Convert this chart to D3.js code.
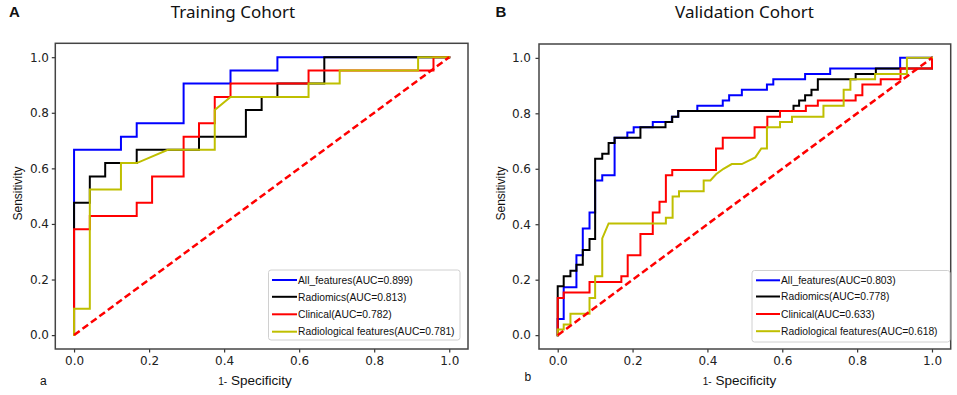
<!DOCTYPE html>
<html>
<head>
<meta charset="utf-8">
<script src="https://cdn.jsdelivr.net/npm/d3@7/dist/d3.min.js"></script>
<style>
  html, body { margin: 0; padding: 0; background: #fff; }
  svg { display: block; }
</style>
</head>
<body>
<svg id="chart" width="957" height="395"></svg>
<script>
// ---------------- DATA ----------------
const tickValues = [0, 0.2, 0.4, 0.6, 0.8, 1.0];
const seriesNames = ["All_features", "Radiomics", "Clinical", "Radiological features"];
const trainAUC = [0.899, 0.813, 0.782, 0.781];
const validAUC = [0.803, 0.778, 0.633, 0.618];

// Training cohort ROC vertices [1-specificity, sensitivity]
const trainAll = [[0,0],[0,0.667],[0.125,0.667],[0.125,0.714],[0.167,0.714],[0.167,0.762],[0.292,0.762],[0.292,0.905],[0.417,0.905],[0.417,0.952],[0.542,0.952],[0.542,1],[1,1]];
const trainRadiomics = [[0,0],[0,0.476],[0.042,0.476],[0.042,0.571],[0.083,0.571],[0.083,0.619],[0.167,0.619],[0.167,0.667],[0.333,0.667],[0.333,0.714],[0.458,0.714],[0.458,0.810],[0.5,0.810],[0.5,0.857],[0.542,0.857],[0.542,0.905],[0.667,0.905],[0.667,1],[1,1]];
const trainClinical = [[0,0],[0,0.381],[0.042,0.381],[0.042,0.429],[0.167,0.429],[0.167,0.476],[0.208,0.476],[0.208,0.571],[0.292,0.571],[0.292,0.714],[0.333,0.714],[0.333,0.762],[0.375,0.762],[0.375,0.857],[0.417,0.857],[0.417,0.905],[0.625,0.905],[0.625,0.952],[0.958,0.952],[0.958,1],[1,1]];
const trainRadiological = [[0,0],[0,0.095],[0.042,0.095],[0.042,0.524],[0.125,0.524],[0.125,0.619],[0.167,0.619],[0.25,0.667],[0.375,0.667],[0.375,0.810],[0.417,0.857],[0.625,0.857],[0.625,0.905],[0.708,0.905],[0.708,0.952],[0.917,0.952],[0.917,1],[1,1]];

// Validation cohort ROC vertices
const validAll = [[0,0],[0,0.058],[0.016,0.058],[0.016,0.173],[0.05,0.173],[0.05,0.288],[0.067,0.288],[0.067,0.385],[0.085,0.385],[0.085,0.442],[0.10,0.442],[0.10,0.558],[0.119,0.558],[0.119,0.577],[0.152,0.577],[0.152,0.712],[0.186,0.712],[0.186,0.731],[0.203,0.731],[0.203,0.75],[0.254,0.75],[0.254,0.769],[0.305,0.769],[0.305,0.788],[0.322,0.788],[0.322,0.808],[0.373,0.808],[0.373,0.827],[0.441,0.827],[0.441,0.846],[0.458,0.846],[0.458,0.865],[0.492,0.865],[0.492,0.885],[0.559,0.885],[0.559,0.904],[0.576,0.904],[0.576,0.923],[0.661,0.923],[0.661,0.942],[0.728,0.942],[0.728,0.962],[0.915,0.962],[0.915,1],[1,1]];
const validRadiomics = [[0,0],[0,0.176],[0.016,0.176],[0.016,0.212],[0.034,0.212],[0.034,0.232],[0.05,0.232],[0.05,0.254],[0.067,0.254],[0.067,0.307],[0.085,0.307],[0.085,0.347],[0.10,0.347],[0.10,0.636],[0.119,0.636],[0.119,0.654],[0.136,0.654],[0.136,0.693],[0.152,0.693],[0.152,0.712],[0.221,0.712],[0.221,0.75],[0.288,0.75],[0.288,0.769],[0.306,0.769],[0.306,0.788],[0.322,0.788],[0.322,0.808],[0.63,0.808],[0.63,0.827],[0.645,0.827],[0.645,0.846],[0.661,0.846],[0.661,0.865],[0.678,0.865],[0.678,0.885],[0.695,0.885],[0.695,0.923],[0.796,0.923],[0.796,0.942],[0.85,0.942],[0.85,0.962],[1,0.962],[1,1]];
const validClinical = [[0,0],[0,0.134],[0.016,0.134],[0.016,0.154],[0.085,0.154],[0.085,0.192],[0.17,0.192],[0.17,0.212],[0.187,0.212],[0.187,0.288],[0.221,0.288],[0.221,0.365],[0.254,0.365],[0.254,0.442],[0.272,0.442],[0.272,0.481],[0.289,0.481],[0.289,0.577],[0.306,0.577],[0.306,0.596],[0.423,0.596],[0.423,0.673],[0.441,0.673],[0.441,0.712],[0.526,0.712],[0.526,0.75],[0.56,0.75],[0.56,0.788],[0.594,0.788],[0.594,0.808],[0.663,0.808],[0.663,0.827],[0.695,0.827],[0.695,0.846],[0.796,0.846],[0.796,0.865],[0.814,0.865],[0.814,0.904],[0.863,0.904],[0.863,0.923],[0.916,0.923],[0.916,0.962],[1,0.962],[1,1]];
const validRadiological = [[0,0],[0,0.02],[0.016,0.02],[0.016,0.038],[0.034,0.038],[0.034,0.077],[0.085,0.077],[0.085,0.134],[0.10,0.134],[0.10,0.212],[0.119,0.212],[0.119,0.349],[0.136,0.403],[0.289,0.403],[0.289,0.423],[0.307,0.423],[0.307,0.5],[0.324,0.5],[0.324,0.519],[0.39,0.519],[0.39,0.558],[0.408,0.558],[0.423,0.58],[0.443,0.6],[0.465,0.617],[0.492,0.617],[0.528,0.641],[0.544,0.673],[0.559,0.673],[0.559,0.75],[0.594,0.75],[0.594,0.769],[0.626,0.769],[0.626,0.788],[0.71,0.788],[0.71,0.827],[0.764,0.827],[0.764,0.885],[0.782,0.885],[0.782,0.923],[0.848,0.923],[0.848,0.942],[0.933,0.942],[0.933,1],[1,1]];

const chanceLine = [[0,0],[1,1]];

// ---------------- STYLE / LAYOUT ----------------
const colors = ["#0000ff", "#000000", "#ff0000", "#bfbf00"];
const panels = [
  { left: 55.3, top: 43.3, width: 412.7, height: 305.7, title: "Training Cohort", titleX: 233,
    letter: "A", letterX: 9, sub: "a", subX: 40, subY: 385, ylabX: 18, xlabX: 255, yPad: 2.8,
    series: [trainAll, trainRadiomics, trainClinical, trainRadiological], auc: trainAUC,
    legend: { x: 268.5, y: 270, w: 191.5, h: 70, lineX: 272, lineLen: 25, textX: 298, rows: [280, 296.8, 314.3, 331.7] } },
  { left: 539, top: 44, width: 411.7, height: 305, title: "Validation Cohort", titleX: 744.5,
    letter: "B", letterX: 495.5, sub: "b", subX: 524.5, subY: 381, ylabX: 501, xlabX: 739.5, yPad: 4.5,
    series: [validAll, validRadiomics, validClinical, validRadiological], auc: validAUC,
    legend: { x: 752, y: 270.5, w: 198, h: 71.5, lineX: 756, lineLen: 24, textX: 781, rows: [280.3, 296.5, 314, 331.2] } }
];

const svg = d3.select("#chart");
const fmt = d3.format(".1f");

panels.forEach(p => {
  const x = d3.scaleLinear().domain([-0.05, 1.05]).range([p.left, p.left + p.width]);
  const y = d3.scaleLinear().domain([-0.05, 1.05]).range([p.top + p.height, p.top]);

  // title
  svg.append("text").attr("x", p.titleX).attr("y", 18.3)
    .attr("text-anchor", "middle")
    .style("font-family", "'Noto Sans', 'Open Sans', sans-serif").style("font-size", "17px").style("fill", "#111")
    .text(p.title);
  // panel letter
  svg.append("text").attr("x", p.letterX).attr("y", 16.8)
    .style("font-family", "'Liberation Sans', Arial, sans-serif").style("font-size", "15px").style("font-weight", "bold").style("fill", "#111")
    .text(p.letter);

  // axes
  const gx = svg.append("g").attr("transform", `translate(0,${p.top + p.height})`)
    .call(d3.axisBottom(x).tickValues(tickValues).tickFormat(fmt).tickSize(3.5).tickPadding(3.5));
  const gy = svg.append("g").attr("transform", `translate(${p.left},0)`)
    .call(d3.axisLeft(y).tickValues(tickValues).tickFormat(fmt).tickSize(3.5).tickPadding(p.yPad));
  [gx, gy].forEach(g => {
    g.select(".domain").remove();
    g.selectAll(".tick line").attr("stroke", "#333").attr("stroke-width", 1.2);
    g.selectAll(".tick text").style("font-family", "'DejaVu Sans', sans-serif").style("font-size", "12px").style("fill", "#222");
  });

  // clip
  const clipId = "clip" + p.letter;
  svg.append("clipPath").attr("id", clipId).append("rect")
    .attr("x", p.left).attr("y", p.top).attr("width", p.width).attr("height", p.height);

  const line = d3.line().x(d => x(d[0])).y(d => y(d[1]));
  const plot = svg.append("g").attr("clip-path", `url(#${clipId})`);
  p.series.forEach((s, i) => {
    plot.append("path").datum(s).attr("d", line)
      .attr("fill", "none").attr("stroke", colors[i]).attr("stroke-width", 2)
      .attr("stroke-linejoin", "miter").attr("stroke-linecap", "square");
  });
  plot.append("path").datum(chanceLine).attr("d", line)
    .attr("fill", "none").attr("stroke", "#ff0000").attr("stroke-width", 2.5)
    .attr("stroke-dasharray", "7,3.5");

  // frame
  svg.append("rect").attr("x", p.left).attr("y", p.top).attr("width", p.width).attr("height", p.height)
    .attr("fill", "none").attr("stroke", "#444").attr("stroke-width", 1.5);

  // legend
  const L = p.legend;
  const lg = svg.append("g");
  lg.append("rect").attr("x", L.x).attr("y", L.y).attr("width", L.w).attr("height", L.h)
    .attr("rx", 2.5).attr("fill", "#fff").attr("fill-opacity", 0.85).attr("stroke", "#d0d0d0").attr("stroke-width", 1);
  seriesNames.forEach((name, i) => {
    lg.append("line").attr("x1", L.lineX).attr("x2", L.lineX + L.lineLen)
      .attr("y1", L.rows[i]).attr("y2", L.rows[i]).attr("stroke", colors[i]).attr("stroke-width", 2);
    lg.append("text").attr("x", L.textX).attr("y", L.rows[i]).attr("dy", "0.36em")
      .style("font-family", "'Liberation Sans', Arial, sans-serif").style("font-size", "10.3px").style("fill", "#111")
      .text(`${name}(AUC=${p.auc[i].toFixed(3)})`);
  });

  // axis labels
  svg.append("text")
    .attr("transform", `translate(${p.ylabX + 4},${193.5}) rotate(-90)`)
    .attr("text-anchor", "middle")
    .style("font-family", "'Liberation Sans', Arial, sans-serif").style("font-size", "12px").style("fill", "#111")
    .text("Sensitivity");
  const xl = svg.append("text").attr("x", p.xlabX).attr("y", 385)
    .attr("text-anchor", "middle")
    .style("font-family", "'Liberation Sans', Arial, sans-serif").style("fill", "#111");
  xl.append("tspan").style("font-size", "10px").text("1-");
  xl.append("tspan").style("font-size", "13.5px").text(" Specificity");

  svg.append("text").attr("x", p.subX).attr("y", p.subY)
    .style("font-family", "'Liberation Sans', Arial, sans-serif").style("font-size", "12px").style("fill", "#111")
    .text(p.sub);
});
</script>
</body>
</html>
